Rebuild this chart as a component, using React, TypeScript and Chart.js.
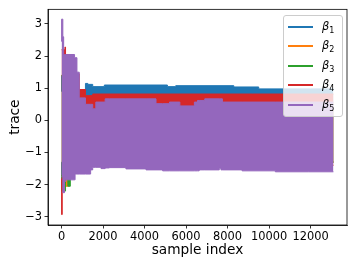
import React, { useEffect, useRef } from "react";
import { Chart, registerables } from "chart.js";

Chart.register(...registerables);

// ---- data (envelopes of the trace of each coefficient, step breakpoints in sample index) ----
const seriesLabels = ["1", "2", "3", "4", "5"];
const seriesColors = ["#1f77b4", "#ff7f0e", "#2ca02c", "#d62728", "#9467bd"];

// beta_1
const s1 = [0, 1150, 1265, 1500, 2060, 5100, 5500, 8300, 9500, 12000, 13100];
const hi1 = [1.4, 0.9, 1.15, 1.12, 1.05, 1.1, 1.05, 1.08, 1.04, 0.98, 0.98];
const lo1 = [-1.7, -1.3, -1.3, -1.3, -1.3, -1.3, -1.3, -1.3, -1.3, -1.3, -1.3];

// beta_2
const s2 = [0, 60, 300, 390, 1150, 13100];
const hi2 = [1.4, 1.4, 1.4, 1.4, 0.3, 0.3];
const lo2 = [-2.0, -1.8, -2.05, -1.7, -1.3, -1.3];

// beta_3
const s3 = [0, 190, 300, 420, 545, 1150, 13100];
const hi3 = [1.4, 1.4, 1.4, 1.4, 1.4, 0.3, 0.3];
const lo3 = [-1.7, -2.2, -1.7, -2.05, -1.7, -1.3, -1.3];

// beta_4
const s4 = [0, 30, 160, 190, 650, 850, 1150, 1500, 9200, 13100];
const hi4 = [2.2, 2.2, 2.2, 2.28, 1.9, 1.45, 0.96, 0.77, 0.82, 0.82];
const lo4 = [-1.8, -2.93, -1.85, -1.85, -1.6, -1.6, -1.4, -1.4, -1.4, -1.4];

// beta_5
const s5 = [0, 60, 100, 140, 200, 625, 650, 740, 850, 1150, 1400, 1500, 1650, 1900, 2100, 2300, 3100, 4070, 4550, 4870, 5200, 5700, 6400, 6550, 6630, 6900, 7600, 7680, 7750, 8700, 10300, 11900, 13100];
const hi5 = [2.45, 3.15, 2.6, 2.05, 2.05, 2.05, 1.95, 1.95, 1.5, 0.7, 0.5, 0.5, 0.36, 0.57, 0.57, 0.67, 0.67, 0.67, 0.67, 0.52, 0.52, 0.57, 0.45, 0.57, 0.62, 0.62, 0.67, 0.67, 0.67, 0.57, 0.57, 0.57, 0.57];
const lo5 = [-1.75, -1.75, -2.25, -2.25, -1.9, -1.85, -1.85, -1.67, -1.67, -1.67, -1.67, -1.54, -1.46, -1.46, -1.5, -1.48, -1.47, -1.51, -1.54, -1.54, -1.57, -1.57, -1.57, -1.57, -1.57, -1.54, -1.54, -1.49, -1.54, -1.54, -1.57, -1.6, -1.6];

const xTicks = [0, 2000, 4000, 6000, 8000, 10000, 12000];
const yTicks = [-3, -2, -1, 0, 1, 2, 3];
const xLabel = "sample index";
const yLabel = "trace";

const FONT = "'DejaVu Sans', sans-serif";

const framePlugin = {
  id: "frame",
  afterDraw(chart: any) {
    const { ctx, chartArea: a } = chart;
    ctx.save();
    ctx.strokeStyle = "#000";
    ctx.lineWidth = 0.8;
    ctx.strokeRect(a.left, a.top, a.right - a.left, a.bottom - a.top);
    ctx.restore();
  },
};

export default function App() {
  const ref = useRef<HTMLCanvasElement | null>(null);

  useEffect(() => {
    if (!ref.current) return;
    const series = [
      { s: s1, hi: hi1, lo: lo1 },
      { s: s2, hi: hi2, lo: lo2 },
      { s: s3, hi: hi3, lo: lo3 },
      { s: s4, hi: hi4, lo: lo4 },
      { s: s5, hi: hi5, lo: lo5 },
    ];
    const datasets: any[] = [];
    series.forEach((sr, k) => {
      const order = 5 - k;
      const c = seriesColors[k];
      datasets.push({
        label: "β" + seriesLabels[k] + " upper",
        data: sr.s.map((x, i) => ({ x, y: sr.hi[i] })),
        stepped: "after",
        borderColor: c,
        borderWidth: 1,
        pointRadius: 0,
        fill: false,
        order,
      });
      datasets.push({
        label: "β" + seriesLabels[k],
        data: sr.s.map((x, i) => ({ x, y: sr.lo[i] })),
        stepped: "after",
        borderColor: c,
        backgroundColor: c,
        borderWidth: 1,
        pointRadius: 0,
        fill: "-1",
        order,
      });
    });

    const tickFont = { family: FONT, size: 11.4 };
    const chart = new Chart(ref.current, {
      type: "line",
      data: { datasets },
      plugins: [framePlugin],
      options: {
        animation: false,
        responsive: false,
        maintainAspectRatio: false,
        devicePixelRatio: 1,
        layout: { padding: { top: 8, right: 10, left: 0, bottom: 0 } },
        plugins: {
          legend: { display: false },
          tooltip: { enabled: false },
        },
        scales: {
          x: {
            type: "linear",
            min: -655,
            max: 13755,
            afterBuildTicks: (s: any) => {
              s.ticks = xTicks.map((v) => ({ value: v }));
            },
            afterFit: (s: any) => {
              s.height = 43;
            },
            ticks: {
              font: tickFont,
              color: "#000",
              padding: 2,
              maxRotation: 0,
              autoSkip: false,
              callback: (v: any) => String(v),
            },
            grid: {
              drawOnChartArea: false,
              drawTicks: true,
              tickLength: 3.5,
              color: "#000",
              lineWidth: 0.8,
            },
            border: { display: true, color: "#000", width: 0.8 },
            title: {
              display: true,
              text: xLabel,
              font: { family: FONT, size: 13.7 },
              color: "#000",
              padding: { top: 0, bottom: 9.3 },
            },
          },
          y: {
            type: "linear",
            min: -3.255,
            max: 3.455,
            afterBuildTicks: (s: any) => {
              s.ticks = yTicks.map((v) => ({ value: v }));
            },
            afterFit: (s: any) => {
              s.width = 48;
            },
            ticks: {
              font: tickFont,
              color: "#000",
              padding: 2.5,
              autoSkip: false,
              callback: (v: any) => String(v).replace("-", "\u2212"),
            },
            grid: {
              drawOnChartArea: false,
              drawTicks: true,
              tickLength: 3.5,
              color: "#000",
              lineWidth: 0.8,
            },
            border: { display: true, color: "#000", width: 0.8 },
            title: {
              display: true,
              text: yLabel,
              font: { family: FONT, size: 13.7 },
              color: "#000",
              padding: { top: 6.8, bottom: 0 },
            },
          },
        },
      } as any,
    });
    return () => chart.destroy();
  }, []);

  // row centres inside the legend box (px from its top edge)
  const rowY = [11, 30, 50, 69, 89];

  return (
    <div style={{ position: "fixed", left: 0, top: 0, width: 357, height: 268, background: "#fff" }}>
      <canvas ref={ref} width={357} height={268} style={{ display: "block", width: 357, height: 268 }} />
      <div
        style={{
          position: "absolute",
          left: 283,
          top: 15,
          width: 60,
          height: 102,
          boxSizing: "border-box",
          border: "1px solid #cccccc",
          borderRadius: 3,
          background: "rgba(255,255,255,0.8)",
        }}
      >
        {seriesLabels.map((lab, i) => (
          <div key={lab}>
            <div
              style={{
                position: "absolute",
                left: 4,
                top: rowY[i] - 1,
                width: 25,
                height: 1.5,
                background: seriesColors[i],
              }}
            />
            <div
              style={{
                position: "absolute",
                left: 38,
                top: rowY[i] - 9,
                height: 16,
                lineHeight: "16px",
                fontFamily: FONT,
                fontSize: 11.4,
                whiteSpace: "nowrap",
                color: "#000",
              }}
            >
              <i>β</i>
              <span style={{ fontSize: 8, position: "relative", top: 3, lineHeight: 0 }}>{lab}</span>
            </div>
          </div>
        ))}
      </div>
    </div>
  );
}
